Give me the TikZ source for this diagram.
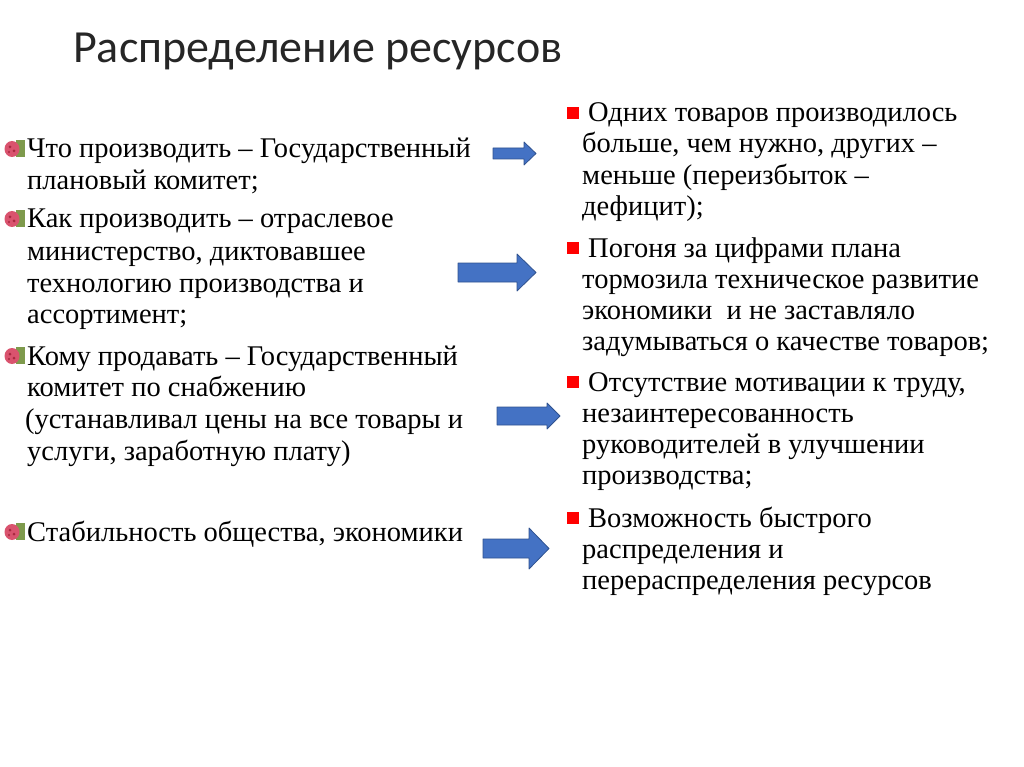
\documentclass[tikz,border=0pt]{standalone}
\usepackage{fontspec}
\setmainfont{Liberation Serif}
\newfontfamily\titlefont{Carlito}
\usetikzlibrary{arrows}

\definecolor{arrowblue}{HTML}{4472C4}
\definecolor{arrowedge}{HTML}{2F528F}
\definecolor{flowerpink}{HTML}{D9536E}
\definecolor{flowerdark}{HTML}{A8283F}
\definecolor{leafgreen}{HTML}{7E9A4C}

\begin{document}
\begin{tikzpicture}[line cap=round,line join=round,x=1pt,y=-1pt,
  txt/.style={anchor=base west,inner sep=0pt,font=\fontsize{28.5}{33}\selectfont},
  blockarrow/.style={fill=arrowblue,draw=arrowedge,line width=0.8pt},
  redbox/.style={fill=red,draw=none}]
\useasboundingbox (0,0) rectangle (1024,767);
\node[anchor=base west,inner sep=0pt,text=black!85,font=\titlefont\fontsize{46}{55}\selectfont] (title) at (73,63) {Распределение ресурсов};
% left column
\node[txt] (l1) at (27,158) {Что производить – Государственный};
\node[txt] (l2) at (27,190) {плановый комитет;};
\node[txt] (l3) at (27,228) {Как производить – отраслевое};
\node[txt] (l4) at (27,260) {министерство, диктовавшее};
\node[txt] (l5) at (27,292) {технологию производства и};
\node[txt] (l6) at (27,323) {ассортимент;};
\node[txt] (l7) at (27,365) {Кому продавать – Государственный};
\node[txt] (l8) at (27,396) {комитет по снабжению};
\node[txt] (l9) at (25,428) {(устанавливал цены на все товары и};
\node[txt] (l10) at (27,460) {услуги, заработную плату)};
\node[txt] (l11) at (27,541) {Стабильность общества, экономики};
% flower bullets
\foreach \y in {158,228,365,541}{
  \fill[leafgreen] (16,\y-18) rectangle (25,\y-1);
  \fill[flowerpink] (12,\y-9) ellipse (7.5 and 8);
  \fill[flowerdark] (10,\y-11) circle (1.5) (14,\y-7) circle (1.5) (9,\y-6) circle (1.2);
}
% right column
\node[txt] (r1) at (588,122) {Одних товаров производилось};
\node[txt] (r2) at (582,153) {больше, чем нужно, других –};
\node[txt] (r3) at (582,185) {меньше (переизбыток –};
\node[txt] (r4) at (582,216) {дефицит);};
\node[txt] (r5) at (588,257) {Погоня за цифрами плана};
\node[txt] (r6) at (582,288) {тормозила техническое развитие};
\node[txt] (r7) at (582,319) {экономики~ и не заставляло};
\node[txt] (r8) at (582,350) {задумываться о качестве товаров;};
\node[txt] (r9) at (588,391) {Отсутствие мотивации к труду,};
\node[txt] (r10) at (582,422) {незаинтересованность};
\node[txt] (r11) at (582,453) {руководителей в улучшении};
\node[txt] (r12) at (582,484) {производства;};
\node[txt] (r13) at (588,527) {Возможность быстрого};
\node[txt] (r14) at (582,558) {распределения и};
\node[txt] (r15) at (582,589) {перераспределения ресурсов};
% red square bullets
\fill[redbox] (567,107) rectangle (579,119);
\fill[redbox] (567,242) rectangle (579,254);
\fill[redbox] (567,376) rectangle (579,388);
\fill[redbox] (567,512) rectangle (579,524);
% blue arrows
\filldraw[blockarrow] (493,148) -- (524,148) -- (524,142) -- (536,153.5) -- (524,165) -- (524,159) -- (493,159) -- cycle;
\filldraw[blockarrow] (458,263) -- (517,263) -- (517,254) -- (536,272.5) -- (517,291) -- (517,282) -- (458,282) -- cycle;
\filldraw[blockarrow] (497,407) -- (547,407) -- (547,403) -- (560,416) -- (547,429) -- (547,425) -- (497,425) -- cycle;
\filldraw[blockarrow] (483,539) -- (529,539) -- (529,528) -- (549,548.5) -- (529,569) -- (529,558) -- (483,558) -- cycle;
\end{tikzpicture}
\end{document}
